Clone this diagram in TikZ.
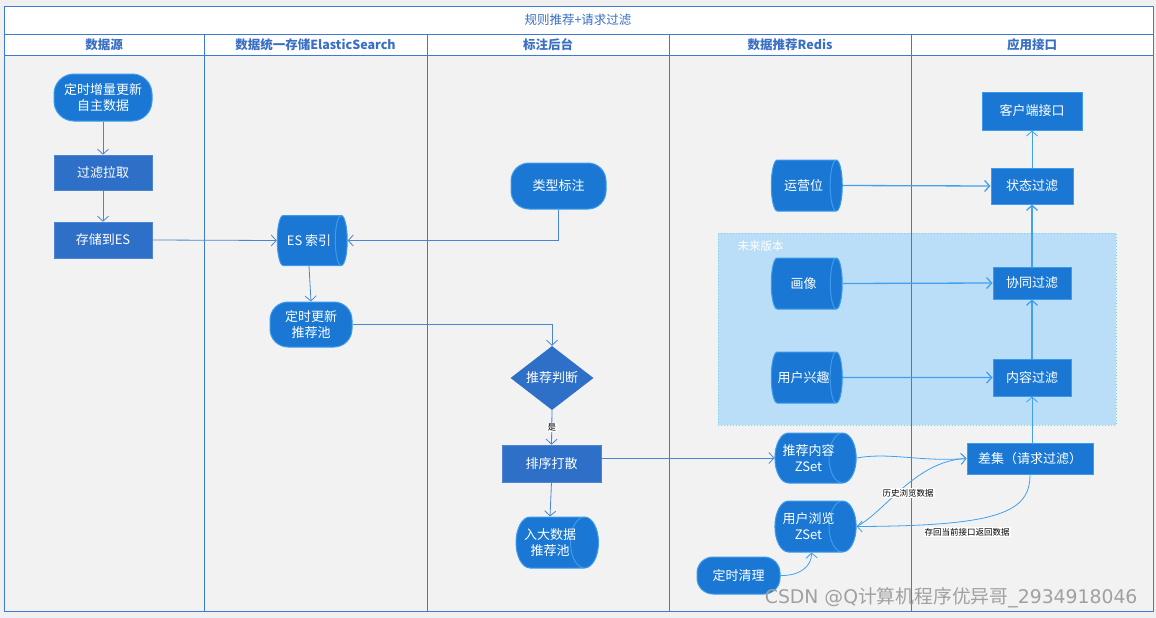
\documentclass[tikz,border=0pt]{standalone}
\usepackage{fontspec}
\setmainfont{Noto Sans CJK SC}
\newfontfamily\wmfont{DejaVu Sans}
\usetikzlibrary{arrows.meta,shapes.geometric,shapes.misc}
\definecolor{bgc}{HTML}{F2F2F2}
\definecolor{outbg}{HTML}{F0F0F0}
\definecolor{frameblue}{HTML}{3D7AD3}
\definecolor{titleblue}{HTML}{3A6FC4}
\definecolor{darkbox}{HTML}{2E6FC8}
\definecolor{boxblue}{HTML}{1A78D4}
\definecolor{boxedge}{HTML}{3C9BEB}
\definecolor{arrowL}{HTML}{4A84D4}
\definecolor{arrowR}{HTML}{42A0EE}
\definecolor{futfill}{HTML}{BBDEF8}
\definecolor{futedge}{HTML}{7DD3E8}
\definecolor{wmgray}{HTML}{A0A0A0}
\newcommand\mysz{\fontsize{13}{16}\selectfont}
\newcommand\mysmall{\fontsize{8.5}{10}\selectfont}
\tikzset{
  frame/.style={draw=frameblue, line width=0.9pt},
  hdr/.style={text=titleblue, font=\fontsize{12.5}{15}\selectfont\bfseries, inner sep=0pt},
  lbox/.style={rectangle, fill=darkbox, draw=darkbox!85!white, line width=0.6pt, text=white, font=\mysz, align=center, inner sep=0pt},
  rbox/.style={rectangle, fill=boxblue, draw=boxedge, line width=1pt, text=white, font=\mysz, align=center, inner sep=0pt},
  stad/.style={rbox, rounded corners=#1},
  stad/.default=16pt,
  cyl/.style={cylinder, aspect=1.0, cylinder uses custom fill, cylinder body fill=boxblue, cylinder end fill=boxblue, draw=boxedge, line width=1pt, text=white, font=\mysz, align=center, inner ysep=0pt, inner xsep=-6pt},
  dia/.style={diamond, fill=darkbox, text=white, font=\mysz, inner sep=0pt},
  arr/.style={draw=arrowL, line width=0.8pt, -{Straight Barb[length=5pt,width=11pt]}},
  arrR/.style={draw=arrowR, line width=1.3pt, -{Straight Barb[length=5pt,width=11pt]}},
  arrC/.style={draw=arrowR, line width=0.8pt, -{Straight Barb[length=5pt,width=11pt]}},
  lbl/.style={fill=white, text=black, font=\mysmall, inner sep=1pt},
}
\begin{document}
\begin{tikzpicture}[x=1pt,y=-1pt]
\useasboundingbox (0,0) rectangle (1156,618);
\fill[outbg] (0,0) rectangle (1156,618);
\fill[bgc] (4,55) rectangle (1153,611);
\fill[white] (4,6) rectangle (1153,55);
% future version area
\draw[fill=futfill, draw=futedge, line width=1pt, dotted] (718,233) rectangle (1116,425);
\node[text=white, font=\fontsize{11.5}{13}\selectfont, anchor=west] (futlbl) at (734,246) {未来版本};
% frame
\draw[frame] (4,6) rectangle (1153,611);
\draw[frame] (4,34) -- (1153,34);
\draw[frame] (4,55) -- (1153,55);
\foreach \x in {204,427,669,911} \draw[frame] (\x,34) -- (\x,611);
% title and headers
\node[text=titleblue, font=\fontsize{12.5}{15}\selectfont] (title) at (578,20) {规则推荐+请求过滤};
\node[hdr] (h1) at (104,44.5) {数据源};
\node[hdr] (h2) at (315.5,44.5) {数据统一存储ElasticSearch};
\node[hdr] (h3) at (548,44.5) {标注后台};
\node[hdr] (h4) at (790,44.5) {数据推荐Redis};
\node[hdr] (h5) at (1032,44.5) {应用接口};
% column 1
\node[stad=20pt, minimum width=98pt, minimum height=47pt] (n1) at (103,97.5) {定时增量更新\\自主数据};
\node[lbox, minimum width=98pt, minimum height=35pt] (n2) at (103,172.5) {过滤拉取};
\node[lbox, minimum width=98pt, minimum height=36pt] (n3) at (103,240) {存储到ES};
% column 2
\node[cyl, minimum height=70pt, minimum width=50pt] (es) at (309,240.5) {ES 索引};
\node[stad=18pt, minimum width=82pt, minimum height=45pt] (pool) at (311,324.5) {定时更新\\推荐池};
% column 3
\node[stad=18pt, minimum width=95pt, minimum height=46pt] (tag) at (558.5,186) {类型标注};
\node[dia, minimum width=83pt, minimum height=55pt] (judge) at (552,378) {推荐判断};
\node[lbox, minimum width=99pt, minimum height=37pt] (sort) at (551.5,463.5) {排序打散};
\node[cyl, minimum height=70pt, minimum width=51pt] (big) at (550,542.5) {入大数据\\推荐池};
% column 4
\node[cyl, minimum height=71pt, minimum width=51pt] (ops) at (803.5,185.5) {运营位};
\node[cyl, minimum height=71pt, minimum width=51pt] (portrait) at (803.5,283.5) {画像};
\node[cyl, minimum height=71pt, minimum width=51pt] (interest) at (803.5,377.5) {用户兴趣};
\node[cyl, minimum height=69pt, minimum width=50pt] (zrec) at (808.5,458) {推荐内容\\ZSet};
\node[cyl, minimum height=69pt, minimum width=51pt] (zbrowse) at (808.5,526.5) {用户浏览\\ZSet};
\node[stad=16pt, minimum width=83pt, minimum height=37pt] (clean) at (738.5,575.5) {定时清理};
% column 5
\node[rbox, minimum width=100pt, minimum height=38pt] (client) at (1032,111) {客户端接口};
\node[rbox, minimum width=82pt, minimum height=36pt] (state) at (1032,186) {状态过滤};
\node[rbox, minimum width=78pt, minimum height=32pt] (collab) at (1032,283) {协同过滤};
\node[rbox, minimum width=78pt, minimum height=37pt] (content) at (1032,377.5) {内容过滤};
\node[rbox, minimum width=126pt, minimum height=31pt] (diff) at (1030,458.5) {差集（请求过滤）};
% connectors left
\draw[arr] (n1) -- (n2);
\draw[arr] (n2) -- (n3);
\draw[arr] (n3.east) -- (es.west);
\draw[arr] (tag.south) |- (es.east);
\draw[arr] (es.south) -- (pool.north);
\draw[arr] (pool.east) -| (judge.north);
\draw[arr] (judge.south) -- node[lbl] (yes) {是} (sort.north);
\draw[arr] (sort.south) -- (big.north);
\draw[arr] (zrec.west -| sort.east) -- (zrec.west);
% connectors right
\draw[arrR] (ops.east) -- (state.west);
\draw[arrR] (portrait.east) -- (collab.west);
\draw[arrR] (interest.east) -- (content.west);
\draw[arrC] (state.north) -- (client.south);
\draw[arrR] (collab.north) -- (state.south);
\draw[arrR] (content.north) -- (collab.south);
\draw[arrC] (diff.north -| content.south) -- (content.south);
\draw[arrC] (zrec.east) .. controls (890,452) and (920,462) .. (diff.west);
\draw[arrC] (zbrowse.east) .. controls (885,512) and (915,461) .. (diff.west);
\draw[arrC] (diff.south) .. controls (1030,512) and (1000,526) .. (zbrowse.east);
\draw[arrC] (clean.east) .. controls (800,576) and (812,566) .. ([xshift=3pt]zbrowse.south);
\node[lbl] (hist) at (908,493) {历史浏览数据};
\node[lbl] (save) at (967,532) {存回当前接口返回数据};
% watermark
\node[text=wmgray, font=\fontsize{18.8}{20}\selectfont, anchor=east] (wm) at (1141,598) {{\wmfont CSDN @Q}计算机程序优异哥{\wmfont \_2934918046}};
\end{tikzpicture}
\end{document}
